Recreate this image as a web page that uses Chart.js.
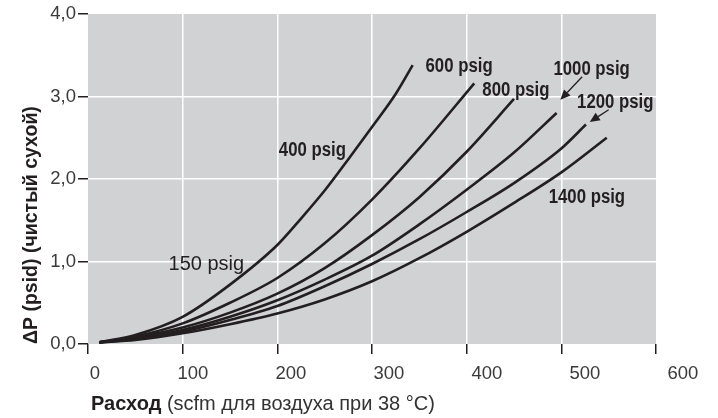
<!DOCTYPE html>
<html><head><meta charset="utf-8">
<script src="https://cdn.jsdelivr.net/npm/chart.js@4.4.1/dist/chart.umd.min.js"></script>
<style>html,body{margin:0;padding:0;background:#fff}#wrap{width:718px;height:418px}</style>
</head><body><div id="wrap"><canvas id="c" width="718" height="418"></canvas></div>
<script>
// ---- data ----
const xTicks = [0, 100, 200, 300, 400, 500, 600];
const yTicks = [0, 1, 2, 3, 4];
const seriesNames = ['400 psig', '600 psig', '800 psig', '1000 psig', '1200 psig', '1400 psig'];
const flowA = [12, 50, 100, 150, 200, 225, 250, 275, 300, 325, 343];
const dpA   = [0.02, 0.11, 0.33, 0.72, 1.20, 1.52, 1.86, 2.24, 2.63, 3.03, 3.38];
const flowB = [12, 50, 100, 150, 200, 250, 300, 350, 408];
const dpB   = [0.02, 0.09, 0.25, 0.50, 0.80, 1.22, 1.75, 2.37, 3.16];
const flowC = [12, 50, 100, 150, 200, 250, 300, 350, 400, 450];
const dpC   = [0.02, 0.08, 0.20, 0.38, 0.61, 0.92, 1.32, 1.78, 2.33, 2.97];
const flowD = [12, 50, 100, 150, 200, 250, 300, 350, 400, 450, 495];
const dpD   = [0.02, 0.07, 0.17, 0.33, 0.53, 0.78, 1.07, 1.45, 1.87, 2.32, 2.80];
const flowE = [12, 50, 100, 150, 200, 250, 300, 350, 400, 450, 500, 526];
const dpE   = [0.02, 0.06, 0.15, 0.29, 0.46, 0.70, 0.97, 1.27, 1.60, 1.95, 2.37, 2.66];
const flowF = [12, 50, 100, 150, 200, 250, 300, 350, 400, 450, 500, 548];
const dpF   = [0.02, 0.05, 0.13, 0.24, 0.37, 0.54, 0.76, 1.04, 1.36, 1.71, 2.08, 2.50];
const curveLabelTexts = ['150 psig', '400 psig', '600 psig', '800 psig', '1000 psig', '1200 psig', '1400 psig'];
const yTitle = 'ΔP (psid) (чистый сухой)';
const xTitleBold = 'Расход';
const xTitleRest = ' (scfm для воздуха при 38 °C)';

// ---- annotation placement (data coordinates) ----
const labelAnchors = [
  {x: 125, y: 0.96, bold: false},
  {x: 237, y: 2.35, bold: true},
  {x: 392, y: 3.36, bold: true},
  {x: 452, y: 3.07, bold: true},
  {x: 532, y: 3.32, bold: true},
  {x: 557, y: 2.93, bold: true},
  {x: 527, y: 1.77, bold: true}
];
const arrows = [
  {from: [522, 3.24], to: [499, 2.96]},
  {from: [550, 2.84], to: [530, 2.69]}
];

const INK = '#231f20';
const allFlows = [flowA, flowB, flowC, flowD, flowE, flowF];
const allDp = [dpA, dpB, dpC, dpD, dpE, dpF];
const datasets = allFlows.map((fx, i) => ({
  label: seriesNames[i],
  data: fx.map((x, j) => ({x: x, y: allDp[i][j]})),
  borderColor: INK,
  borderWidth: 2.6,
  pointRadius: 0,
  fill: false,
  cubicInterpolationMode: 'monotone'
}));

const bgPlugin = {
  id: 'bg',
  beforeDraw(chart) {
    const {ctx, chartArea: a} = chart;
    ctx.save();
    ctx.fillStyle = '#d1d2d4';
    ctx.fillRect(a.left, a.top, a.right - a.left, a.bottom - a.top);
    ctx.restore();
  }
};

const annPlugin = {
  id: 'ann',
  afterDatasetsDraw(chart) {
    const {ctx} = chart;
    const xs = chart.scales.x, ys = chart.scales.y;
    ctx.save();
    ctx.fillStyle = INK;
    ctx.textAlign = 'center';
    ctx.textBaseline = 'middle';
    curveLabelTexts.forEach((t, i) => {
      const an = labelAnchors[i];
      const px = xs.getPixelForValue(an.x), py = ys.getPixelForValue(an.y);
      ctx.save();
      ctx.translate(px, py);
      if (an.bold) {
        ctx.font = 'bold 19.5px "Liberation Sans", Arial, sans-serif';
        ctx.scale(0.86, 1);
      } else {
        ctx.font = '20px "Liberation Sans", Arial, sans-serif';
      }
      ctx.fillText(t, 0, 0);
      ctx.restore();
    });
    ctx.strokeStyle = INK;
    ctx.lineWidth = 1.3;
    arrows.forEach(ar => {
      const x1 = xs.getPixelForValue(ar.from[0]), y1 = ys.getPixelForValue(ar.from[1]);
      const x2 = xs.getPixelForValue(ar.to[0]), y2 = ys.getPixelForValue(ar.to[1]);
      const ang = Math.atan2(y2 - y1, x2 - x1);
      const L = 10, W = 4.5;
      const bx = x2 - L * Math.cos(ang), by = y2 - L * Math.sin(ang);
      ctx.beginPath(); ctx.moveTo(x1, y1); ctx.lineTo(bx, by); ctx.stroke();
      ctx.beginPath();
      ctx.moveTo(x2, y2);
      ctx.lineTo(bx + W * Math.sin(ang), by - W * Math.cos(ang));
      ctx.lineTo(bx - W * Math.sin(ang), by + W * Math.cos(ang));
      ctx.closePath(); ctx.fill();
    });
    ctx.restore();
  },
  afterDraw(chart) {
    const {ctx, chartArea: a} = chart;
    ctx.save();
    ctx.fillStyle = INK;
    ctx.textBaseline = 'middle';
    ctx.textAlign = 'left';
    const x0 = a.left + 3, y0 = 404;
    ctx.font = 'bold 20px "Liberation Sans", Arial, sans-serif';
    ctx.fillText(xTitleBold, x0, y0);
    const w = ctx.measureText(xTitleBold).width;
    ctx.font = '20px "Liberation Sans", Arial, sans-serif';
    ctx.fillStyle = '#333';
    ctx.fillText(xTitleRest, x0 + w, y0);
    ctx.restore();
  }
};

const tickFont = {family: '"Liberation Sans", Arial, sans-serif', size: 18.5};
const edgeAware = (lo, hi) => (c) => (c.tick && (c.tick.value === lo || c.tick.value === hi)) ? 'rgba(0,0,0,0)' : '#ffffff';

new Chart(document.getElementById('c'), {
  type: 'line',
  data: {datasets},
  options: {
    responsive: false,
    animation: false,
    devicePixelRatio: 1,
    layout: {padding: {left: 0, right: 62, top: 14, bottom: 34}},
    plugins: {legend: {display: false}, tooltip: {enabled: false}},
    scales: {
      x: {
        type: 'linear', position: 'bottom', min: 0, max: 600,
        afterBuildTicks: s => { s.ticks = xTicks.map(v => ({value: v})); },
        grid: {color: edgeAware(0, 600), lineWidth: 1.5, drawTicks: true, tickLength: 10, tickColor: INK, tickWidth: 1.5},
        border: {display: false},
        ticks: {display: false},
        afterFit: s => { s.height = 10; s.paddingLeft = 0; s.paddingRight = 0; }
      },
      x2: {
        type: 'linear', position: 'bottom', min: -7.1, max: 572.5,
        afterBuildTicks: s => { s.ticks = xTicks.map(v => ({value: v})); },
        grid: {display: false, drawTicks: false},
        border: {display: false},
        ticks: {font: tickFont, color: '#3a3a3a', padding: 9, maxRotation: 0, autoSkip: false, callback: v => String(v)},
        afterFit: s => { s.height = 30; s.paddingLeft = 0; s.paddingRight = 0; }
      },
      y: {
        type: 'linear', min: 0, max: 4,
        afterBuildTicks: s => { s.ticks = yTicks.map(v => ({value: v})); },
        grid: {color: edgeAware(0, 4), lineWidth: 1.5, drawTicks: true, tickLength: 10, tickColor: INK, tickWidth: 1.5},
        border: {display: false},
        ticks: {font: tickFont, color: '#3a3a3a', padding: 2, callback: v => v.toFixed(1).replace('.', ',')},
        title: {display: true, text: yTitle, align: 'start', color: INK,
                font: {family: '"Liberation Sans", Arial, sans-serif', size: 19.5, weight: 'bold'},
                padding: {top: 20, bottom: 0}},
        afterFit: s => { s.width = 88; }
      }
    }
  },
  plugins: [bgPlugin, annPlugin]
});
</script></body></html>
